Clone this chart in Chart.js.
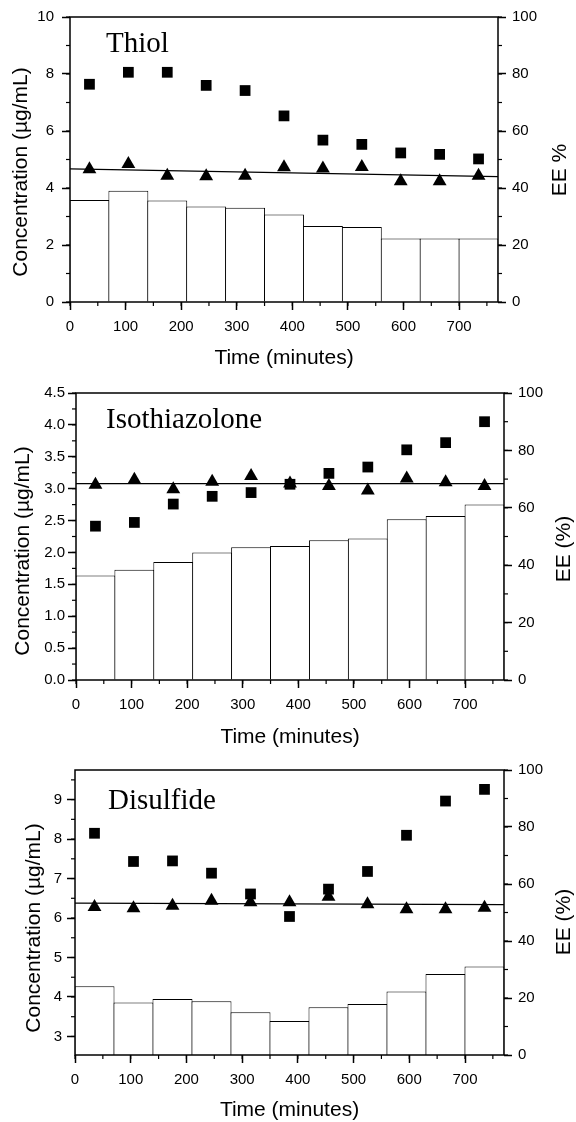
<!DOCTYPE html>
<html>
<head>
<meta charset="utf-8">
<script src="https://cdn.jsdelivr.net/npm/chart.js@4.4.0/dist/chart.umd.min.js"></script>
<style>
  html, body { margin: 0; padding: 0; background: #fff; }
  body { width: 576px; height: 1122px; position: relative; overflow: hidden; }
  canvas { position: absolute; left: 0; }
</style>
</head>
<body>
<canvas id="thiolChart" width="576" height="372" style="top:0px"></canvas>
<canvas id="isoChart" width="576" height="380" style="top:372px"></canvas>
<canvas id="disulfideChart" width="576" height="370" style="top:752px"></canvas>
<script>
// sampling times (minutes), one bar per 70 min interval
var times = [35, 105, 175, 245, 315, 385, 455, 525, 595, 665, 735];
var fitTimes = [0, 770];

// Thiol
var thiolBars = [3.58, 3.90, 3.56, 3.35, 3.31, 3.07, 2.67, 2.63, 2.23, 2.23, 2.23];
var thiolTriangles = [4.66, 4.84, 4.43, 4.41, 4.43, 4.73, 4.68, 4.74, 4.24, 4.24, 4.43];
var thiolEE = [76.4, 80.6, 80.6, 76.0, 74.2, 65.3, 56.8, 55.3, 52.3, 51.8, 50.2];
var thiolFit = [4.67, 4.40];

// Isothiazolone
var isoBars = [1.64, 1.73, 1.85, 2.00, 2.08, 2.10, 2.19, 2.22, 2.52, 2.57, 2.75];
var isoTriangles = [3.06, 3.14, 2.99, 3.11, 3.20, 3.08, 3.04, 2.97, 3.16, 3.10, 3.04];
var isoEE = [53.6, 54.9, 61.3, 64.0, 65.3, 68.2, 72.0, 74.2, 80.2, 82.7, 90.0];
var isoFit = [3.08, 3.08];

// Disulfide
var disBars = [4.27, 3.86, 3.95, 3.89, 3.61, 3.39, 3.74, 3.82, 4.14, 4.58, 4.77];
var disTriangles = [6.28, 6.25, 6.31, 6.44, 6.40, 6.40, 6.54, 6.35, 6.22, 6.22, 6.26];
var disEE = [77.8, 67.9, 68.1, 63.8, 56.5, 48.6, 58.2, 64.4, 77.1, 89.1, 93.2];
var disFit = [6.38, 6.34];

Chart.defaults.font.family = '"Liberation Sans", Arial, sans-serif';
Chart.defaults.color = '#000';

// frame, minor ticks and the texts
var decorPlugin = {
    id: 'panelDecor',
    afterDatasetsDraw: function(chart, args, o) {
        var ctx = chart.ctx, a = chart.chartArea;
        ctx.save();
        ctx.strokeStyle = '#000';
        ctx.lineWidth = 1.5;
        ctx.strokeRect(a.left, a.top, a.right - a.left, a.bottom - a.top);
        ctx.lineWidth = 1.2;
        ['x', 'y', 'y2'].forEach(function(id) {
            var s = chart.scales[id], step = o.minor[id];
            for (var v = Math.ceil(s.min / step - 1e-9) * step; v <= s.max + 1e-9; v += step) {
                var p = s.getPixelForValue(v);
                ctx.beginPath();
                if (id === 'x') { ctx.moveTo(p, a.bottom); ctx.lineTo(p, a.bottom + 4); }
                else if (id === 'y') { ctx.moveTo(a.left, p); ctx.lineTo(a.left - 4, p); }
                else { ctx.moveTo(a.right, p); ctx.lineTo(a.right + 4, p); }
                ctx.stroke();
            }
        });
        ctx.restore();
    },
    afterDraw: function(chart, args, o) {
        var ctx = chart.ctx, a = chart.chartArea;
        ctx.save();
        ctx.fillStyle = '#000';
        ctx.font = '29px "Liberation Serif"';
        ctx.textAlign = 'left';
        ctx.textBaseline = 'alphabetic';
        ctx.fillText(o.name, o.nameX, o.nameY);

        ctx.font = '21px "Liberation Sans"';
        ctx.textAlign = 'center';
        ctx.textBaseline = 'middle';
        ctx.fillText('Time (minutes)', (a.left + a.right) / 2, o.timeY);

        ctx.save();
        ctx.translate(o.concX, o.concY);
        ctx.rotate(-Math.PI / 2);
        ctx.fillText('Concentration (µg/mL)', 0, 0);
        ctx.restore();

        ctx.save();
        ctx.translate(o.eeX, o.eeY);
        ctx.rotate(-Math.PI / 2);
        ctx.fillText(o.eeText, 0, 0);
        ctx.restore();
        ctx.restore();
    }
};

var panels = [
    { id: 'thiolChart', name: 'Thiol', height: 372, area: { left: 70, right: 498, top: 17, bottom: 302 },
      bars: thiolBars, tri: thiolTriangles, ee: thiolEE, fit: thiolFit,
      yMin: 0, yMax: 10, yStep: 2, yMinor: 1, yDec: 0, yPad: 8,
      nameX: 106, nameY: 52, concX: 21, concY: 172, eeX: 560, eeY: 170, eeText: 'EE %', timeY: 358 },
    { id: 'isoChart', name: 'Isothiazolone', height: 380, area: { left: 76, right: 504, top: 21, bottom: 308 },
      bars: isoBars, tri: isoTriangles, ee: isoEE, fit: isoFit,
      yMin: 0, yMax: 4.5, yStep: 0.5, yMinor: 0.25, yDec: 1, yPad: 3,
      nameX: 106, nameY: 56, concX: 23, concY: 179, eeX: 564, eeY: 177, eeText: 'EE (%)', timeY: 365 },
    { id: 'disulfideChart', name: 'Disulfide', height: 370, area: { left: 75, right: 504, top: 18, bottom: 303 },
      bars: disBars, tri: disTriangles, ee: disEE, fit: disFit,
      yMin: 2.53, yMax: 9.75, yStep: 1, yMinor: 0.5, yDec: 0, yPad: 5,
      nameX: 108, nameY: 57, concX: 34, concY: 176, eeX: 564, eeY: 170, eeText: 'EE (%)', timeY: 358 }
];

function points(xs, ys) {
    return xs.map(function(x, i) { return { x: x, y: ys[i] }; });
}

var tickGrid = { drawOnChartArea: false, drawTicks: true, tickLength: 8, tickWidth: 1.5, tickColor: '#000' };

panels.forEach(function(p) {
    var ctx = document.getElementById(p.id).getContext('2d');
    new Chart(ctx, {
        type: 'bar',
        data: {
            datasets: [
                { type: 'line', data: points(fitTimes, p.fit), borderColor: '#000', borderWidth: 1.2,
                  pointRadius: 0, yAxisID: 'y', order: 2 },
                { type: 'line', data: points(times, p.tri), showLine: false, pointStyle: 'triangle',
                  pointRadius: 8, backgroundColor: '#000', borderColor: '#000', borderWidth: 0, yAxisID: 'y', order: 1 },
                { type: 'line', data: points(times, p.ee), showLine: false, pointStyle: 'rect',
                  pointRadius: 7.6, backgroundColor: '#000', borderColor: '#000', borderWidth: 0, yAxisID: 'y2', order: 1 },
                { type: 'bar', data: points(times, p.bars), backgroundColor: '#fff', borderColor: '#000',
                  borderWidth: 1, barPercentage: 1.026, categoryPercentage: 1, yAxisID: 'y', order: 3 }
            ]
        },
        options: {
            responsive: false,
            animation: false,
            layout: { padding: { top: p.area.top, left: 0, right: 0, bottom: 0 } },
            plugins: {
                legend: { display: false },
                tooltip: { enabled: false },
                panelDecor: {
                    minor: { x: 50, y: p.yMinor, y2: 10 },
                    name: p.name, nameX: p.nameX, nameY: p.nameY,
                    concX: p.concX, concY: p.concY, eeX: p.eeX, eeY: p.eeY, eeText: p.eeText, timeY: p.timeY
                }
            },
            scales: {
                x: {
                    type: 'linear', min: 0, max: 770, offset: false,
                    grid: Object.assign({ offset: false }, tickGrid),
                    border: { display: false },
                    ticks: { stepSize: 100, includeBounds: false, autoSkip: false, maxRotation: 0,
                             font: { size: 15 }, padding: 8 },
                    afterFit: function(s) { s.height = p.height - p.area.bottom; }
                },
                y: {
                    type: 'linear', position: 'left', min: p.yMin, max: p.yMax, beginAtZero: false,
                    grid: tickGrid, border: { display: false },
                    ticks: { stepSize: p.yStep, includeBounds: false, autoSkip: false, font: { size: 15 },
                             padding: p.yPad, callback: function(v) { return v.toFixed(p.yDec); } },
                    afterFit: function(s) { s.width = p.area.left; }
                },
                y2: {
                    type: 'linear', position: 'right', min: 0, max: 100,
                    grid: tickGrid, border: { display: false },
                    ticks: { stepSize: 20, autoSkip: false, font: { size: 15 }, padding: 6 },
                    afterFit: function(s) { s.width = 576 - p.area.right; }
                }
            }
        },
        plugins: [decorPlugin]
    });
});
</script>
</body>
</html>
